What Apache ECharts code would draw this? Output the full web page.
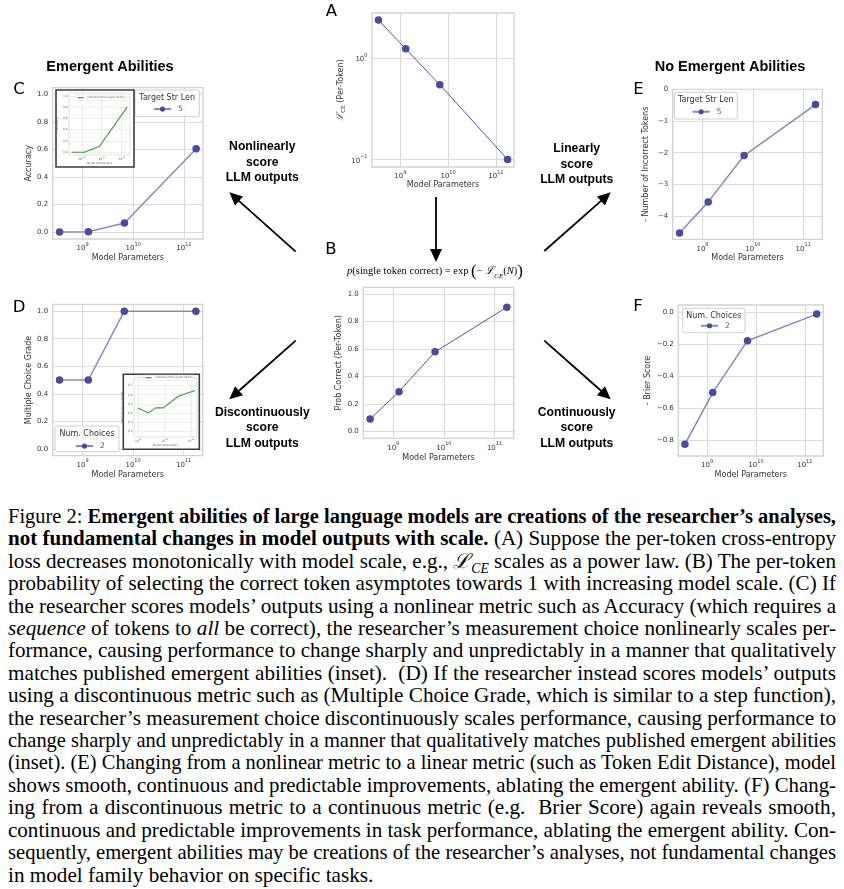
<!DOCTYPE html>
<html><head><meta charset="utf-8">
<script src="https://cdn.jsdelivr.net/npm/echarts@6/dist/echarts.min.js"></script>
<style>
html,body{margin:0;padding:0;background:#fff;}
#chart{position:absolute;left:0;top:0;width:844px;height:500px;}
#cap{position:absolute;left:8px;top:505px;width:828px;font-family:"Liberation Serif","Tinos","Times New Roman","Times","Nimbus Roman","FreeSerif",serif;font-size:21.2px;line-height:22.4px;color:#000;}
#cap .ln{width:828px;white-space:nowrap;}
#cap .ln span.t{white-space:nowrap;display:inline-block;}
#cap sub{font-size:65%;line-height:0;}
</style></head><body>
<div id="chart"></div>
<div id="cap">
<div class="ln"><span class="t">Figure 2: <b>Emergent abilities of large language models are creations of the researcher’s analyses,</b></span></div>
<div class="ln"><span class="t"><b>not fundamental changes in model outputs with scale.</b> (A) Suppose the per-token cross-entropy</span></div>
<div class="ln"><span class="t">loss decreases monotonically with model scale, e.g., <i>ℒ<sub>CE</sub></i> scales as a power law. (B) The per-token</span></div>
<div class="ln"><span class="t">probability of selecting the correct token asymptotes towards 1 with increasing model scale. (C) If</span></div>
<div class="ln"><span class="t">the researcher scores models’ outputs using a nonlinear metric such as Accuracy (which requires a</span></div>
<div class="ln"><span class="t"><i>sequence</i> of tokens to <i>all</i> be correct), the researcher’s measurement choice nonlinearly scales per-</span></div>
<div class="ln"><span class="t">formance, causing performance to change sharply and unpredictably in a manner that qualitatively</span></div>
<div class="ln"><span class="t">matches published emergent abilities (inset).&nbsp; (D) If the researcher instead scores models’ outputs</span></div>
<div class="ln"><span class="t">using a discontinuous metric such as (Multiple Choice Grade, which is similar to a step function),</span></div>
<div class="ln"><span class="t">the researcher’s measurement choice discontinuously scales performance, causing performance to</span></div>
<div class="ln"><span class="t">change sharply and unpredictably in a manner that qualitatively matches published emergent abilities</span></div>
<div class="ln"><span class="t">(inset). (E) Changing from a nonlinear metric to a linear metric (such as Token Edit Distance), model</span></div>
<div class="ln"><span class="t">shows smooth, continuous and predictable improvements, ablating the emergent ability. (F) Chang-</span></div>
<div class="ln"><span class="t">ing from a discontinuous metric to a continuous metric (e.g.&nbsp; Brier Score) again reveals smooth,</span></div>
<div class="ln"><span class="t">continuous and predictable improvements in task performance, ablating the emergent ability. Con-</span></div>
<div class="ln"><span class="t">sequently, emergent abilities may be creations of the researcher’s analyses, not fundamental changes</span></div>
<div class="ln last"><span class="t">in model family behavior on specific tasks.</span></div>
</div>
<script>
// ---------------- data ----------------
const modelParams = [3.5e8, 1.3e9, 6.7e9, 1.75e11];
const lossCE = [2.36, 1.23, 0.545, 0.100];
const probCorrect = [0.09, 0.29, 0.58, 0.905];
const accuracy = [0.000, 0.002, 0.066, 0.606];
const negNumIncorrect = [-4.53, -3.55, -2.09, -0.48];
const mcGrade = [0.5, 0.5, 1.0, 1.0];
const negBrier = [-0.827, -0.502, -0.176, -0.009];

// insets: published emergent abilities (x as exponent of 10)
const insetCExp = [21.5, 22.12, 22.88, 24.28];
const insetCAcc = [0.0, 0.0, 0.1, 0.8];
const insetDExp = [21.98, 22.38, 22.66, 22.95, 23.52, 24.15];
const insetDGrade = [0.455, 0.40, 0.455, 0.455, 0.583, 0.646];

// tick labels
const xTickExp = [9, 10, 11];
const insetXTickExp = [22, 23, 24];
const yTicksA = [-1, 0];
const yTicks01 = [0, 0.2, 0.4, 0.6, 0.8, 1.0];
const yTicksE = [-4, -3, -2, -1, 0];
const yTicksF = [-0.8, -0.6, -0.4, -0.2, 0.0];
const yTicksInsetD = [0.2, 0.3, 0.4, 0.5, 0.6, 0.7];

// ---------------- styles ----------------
const INK = '#353535';
const GRIDC = '#dadada';
const FRAME = '#d2d2d2';
const MARK = '#4a4a9e';
const LINE_DARK = '#5252a8';
const LINE_LIGHT = '#8888c6';
const GREEN = '#2ca02c';
const SANS = '"DejaVu Sans", sans-serif';
const ARIAL = '"Liberation Sans", Arial, sans-serif';
const SERIF = '"Liberation Serif", "Times New Roman", "DejaVu Serif", serif';

const minus = s => String(s).replace('-', '\u2212');
const powFmt = v => '{b|10}{s|' + minus(Math.round(v)) + '}';
const dec1 = v => minus((Math.abs(v) < 1e-9 ? 0 : v).toFixed(1));
const intFmt = v => minus(Math.round(v));
const SUP = { b: { fontSize: 7, fontFamily: SANS, color: INK, verticalAlign: 'bottom', lineHeight: 10 },
              s: { fontSize: 5, fontFamily: SANS, color: INK, verticalAlign: 'top', lineHeight: 10 } };
const SUPi = { b: { fontSize: 3, fontFamily: SANS, color: '#666', verticalAlign: 'bottom', lineHeight: 4.2 },
               s: { fontSize: 2.2, fontFamily: SANS, color: '#666', verticalAlign: 'top', lineHeight: 4.2 } };
const nameStyle = { fontSize: 8, fontFamily: SANS, color: INK };

const XMIN = 8.409, XMAX = 11.378;

const panels = [
  { box: [372, 13, 514, 167], y: [-1.075, 0.443], yt: yTicksA, fmt: powFmt, log: true, vals: lossCE,
    yname: '{l|ℒ}{sub|CE}{t| (Per-Token)}', ygap: 25, xgap: 13.5, lc: LINE_DARK, lw: 1, sname: 'A' },
  { box: [363.3, 287.3, 513.7, 438.3], y: [-0.05, 1.05], yt: yTicks01, fmt: dec1, vals: probCorrect,
    yname: 'Prob Correct (Per-Token)', ygap: 20.5, xgap: 15.5, lc: LINE_DARK, lw: 1, sname: 'B' },
  { box: [52.7, 87.7, 203, 239], y: [-0.05, 1.05], yt: yTicks01, fmt: dec1, vals: accuracy,
    yname: 'Accuracy', ygap: 20, xgap: 14.5, lc: LINE_LIGHT, lw: 1.5, sname: '5' },
  { box: [52.7, 304.3, 202.7, 455.7], y: [-0.05, 1.05], yt: yTicks01, fmt: dec1, vals: mcGrade,
    yname: 'Multiple Choice Grade', ygap: 20, xgap: 15, lc: LINE_LIGHT, lw: 1.5, sname: '2' },
  { box: [672.7, 89.3, 822.3, 239.3], y: [-4.73, 0], yt: yTicksE, fmt: intFmt, vals: negNumIncorrect,
    yname: '- Number of Incorrect Tokens', ygap: 23, xgap: 14.5, lc: LINE_LIGHT, lw: 1.5, sname: '5' },
  { box: [678.3, 305, 823.3, 456], y: [-0.9, 0.048], yt: yTicksF, fmt: dec1, vals: negBrier,
    yname: '- Brier Score', ygap: 26.5, xgap: 14.5, lc: LINE_LIGHT, lw: 1.5, sname: '2' }
];

const grid = [], xAxis = [], yAxis = [], series = [];
panels.forEach((p, i) => {
  const b = p.box;
  grid.push({ left: b[0], top: b[1], width: b[2] - b[0], height: b[3] - b[1], show: true,
    backgroundColor: '#fff', borderColor: FRAME, borderWidth: 1.3, containLabel: false, outerBoundsMode: 'none', z: 0 });
  xAxis.push({ type: 'value', gridIndex: i, min: XMIN, max: XMAX,
    axisLine: { show: false }, axisTick: { show: false, customValues: xTickExp },
    axisLabel: { customValues: xTickExp, formatter: powFmt, margin: 3, rich: SUP, color: INK, fontSize: 7 },
    splitLine: { show: true, lineStyle: { color: GRIDC, width: 1 } },
    name: 'Model Parameters', nameLocation: 'middle', nameGap: p.xgap, nameTextStyle: nameStyle });
  const yname = p.log ? {
      fontSize: 8, fontFamily: SANS, color: INK,
      rich: { l: { fontFamily: '"DejaVu Serif", serif', fontStyle: 'italic', fontSize: 9.5, color: INK, verticalAlign: 'middle', lineHeight: 12 },
              sub: { fontFamily: SANS, fontSize: 5.5, color: INK, verticalAlign: 'bottom', lineHeight: 12 },
              t: { fontFamily: SANS, fontSize: 8, color: INK, verticalAlign: 'middle', lineHeight: 12 } } } : nameStyle;
  yAxis.push({ type: 'value', gridIndex: i, min: p.y[0], max: p.y[1],
    axisLine: { show: false }, axisTick: { show: false, customValues: p.yt },
    axisLabel: { customValues: p.yt, formatter: p.fmt, margin: 4.5, rich: SUP, color: INK, fontSize: 7, fontFamily: SANS },
    splitLine: { show: true, lineStyle: { color: GRIDC, width: 1 } },
    name: p.yname, nameLocation: 'middle', nameGap: p.ygap, nameTextStyle: yname });
  series.push({ type: 'line', name: p.sname, xAxisIndex: i, yAxisIndex: i,
    data: modelParams.map((n, k) => [Math.log10(n), p.log ? Math.log10(p.vals[k]) : p.vals[k]]),
    symbol: 'circle', symbolSize: 7.5, showSymbol: true,
    itemStyle: { color: MARK }, lineStyle: { color: p.lc, width: p.lw }, z: 2, animation: false, silent: true });
});

// insets
const insets = [
  { grid: [69, 93, 61, 62], x: [21.36, 24.42], y: [-0.05, 1.05], yt: yTicks01, xs: insetCExp, ys: insetCAcc,
    yname: 'Accuracy', ygap: 5.5, xgap: 3.3, legend: [75, 95] },
  { grid: [134, 377.5, 63, 59.5], x: [21.837, 24.228], y: [0.134, 0.79], yt: yTicksInsetD, xs: insetDExp, ys: insetDGrade,
    yname: 'Multiple Choice Grade', ygap: 5, xgap: 3.3, legend: [143, 375] }
];
const iStyle = { fontSize: 2.8, fontFamily: SANS, color: '#666' };
insets.forEach((q, j) => {
  const gi = grid.length;
  grid.push({ left: q.grid[0], top: q.grid[1], width: q.grid[2], height: q.grid[3], show: true,
    backgroundColor: '#fff', borderColor: '#cfcfcf', borderWidth: 0.6, containLabel: false, outerBoundsMode: 'none', z: 6 });
  xAxis.push({ type: 'value', gridIndex: gi, min: q.x[0], max: q.x[1], z: 6,
    axisLine: { show: false }, axisTick: { show: false, customValues: insetXTickExp },
    axisLabel: { customValues: insetXTickExp, formatter: powFmt, margin: 1.2, rich: SUPi, color: '#666', fontSize: 3 },
    splitLine: { show: true, lineStyle: { color: '#e2e2e2', width: 0.6 } },
    name: 'Model Parameters', nameLocation: 'middle', nameGap: q.xgap, nameTextStyle: iStyle });
  yAxis.push({ type: 'value', gridIndex: gi, min: q.y[0], max: q.y[1], z: 6,
    axisLine: { show: false }, axisTick: { show: false, customValues: q.yt },
    axisLabel: { customValues: q.yt, formatter: dec1, margin: 1.3, color: '#666', fontSize: 3, fontFamily: SANS },
    splitLine: { show: true, lineStyle: { color: '#e2e2e2', width: 0.6 } },
    name: q.yname, nameLocation: 'middle', nameGap: q.ygap, nameTextStyle: iStyle });
  series.push({ type: 'line', name: 'Published Emergent Ability', xAxisIndex: gi, yAxisIndex: gi,
    data: q.xs.map((x, k) => [x, q.ys[k]]), symbol: 'none', showSymbol: false,
    lineStyle: { color: GREEN, width: 1.1 }, itemStyle: { color: GREEN }, z: 7, animation: false, silent: true });
});

// legends
const legend = [];
function mainLegend(name, left, cy) {
  legend.push({ data: [name], left: left, top: cy - 3.25, orient: 'horizontal', padding: 0, itemGap: 0,
    itemWidth: 17, itemHeight: 6.5, selectedMode: false, z: 6,
    textStyle: { fontSize: 7.5, color: MARK, fontFamily: SANS, padding: [0, 0, 0, 2] } });
}
mainLegend('5', 153, 108.3);
mainLegend('5', 691.7, 111);
mainLegend('2', 75, 445.3);
mainLegend('2', 700, 325);
insets.forEach(q => {
  legend.push({ data: [{ name: 'Published Emergent Ability', icon: 'rect' }], left: q.legend[0], top: q.legend[1],
    padding: [1.1, 1.5, 1.1, 2.5], itemGap: 0, itemWidth: 6.2, itemHeight: 1.2, selectedMode: false, z: 9,
    backgroundColor: '#fff', borderColor: '#d0d0d0', borderWidth: 0.4, borderRadius: 0.5,
    textStyle: { fontSize: 2.8, lineHeight: 3.2, color: '#666', fontFamily: SANS, padding: [0, 0, 0, -1.5] } });
});

// ---------------- annotations ----------------
const graphic = [];
function txt(x, y, s, font, extra) {
  graphic.push(Object.assign({ type: 'text', z: 10, silent: true,
    style: Object.assign({ text: s, x: x, y: y, align: 'center', verticalAlign: 'middle', font: font, fill: '#000' }, extra || {}) }));
}
// panel letters
[['A', 331.5, 11.5], ['B', 331, 250], ['C', 19, 89.5], ['D', 19, 307.5], ['E', 638.5, 89.5], ['F', 638, 306.5]]
  .forEach(a => txt(a[1], a[2], a[0], '16.5px ' + SANS));
// titles
txt(110, 67, 'Emergent Abilities', 'bold 14.5px ' + ARIAL);
txt(730, 67, 'No Emergent Abilities', 'bold 14.5px ' + ARIAL);
// middle labels
[[262.3, 162.2, 'Nonlinearly\nscore\nLLM outputs'], [576.7, 164.3, 'Linearly\nscore\nLLM outputs'],
 [262.3, 427.9, 'Discontinuously\nscore\nLLM outputs'], [576.7, 427.9, 'Continuously\nscore\nLLM outputs']]
  .forEach(a => txt(a[0], a[1], a[2], 'bold 12.2px ' + ARIAL, { lineHeight: 15.5 }));
// formula above B
graphic.push({ type: 'text', z: 10, silent: true, style: {
  x: 435, y: 271.5, align: 'center', verticalAlign: 'middle', fill: '#000',
  text: '{i|p}{r|(single token correct) = exp }{big|(}{r|\u2212 }{L|ℒ}{sub|CE}{r|(}{i|N}{r|)}{big|)}',
  rich: {
    i: { fontFamily: SERIF, fontStyle: 'italic', fontSize: 10.5, verticalAlign: 'middle', lineHeight: 16 },
    r: { fontFamily: SERIF, fontSize: 10.5, verticalAlign: 'middle', lineHeight: 16 },
    big: { fontFamily: SERIF, fontSize: 17, verticalAlign: 'middle', lineHeight: 16 },
    L: { fontFamily: '"DejaVu Serif", serif', fontStyle: 'italic', fontSize: 11, verticalAlign: 'middle', lineHeight: 16 },
    sub: { fontFamily: SERIF, fontStyle: 'italic', fontSize: 7, verticalAlign: 'bottom', lineHeight: 13 }
  } } });
// arrows
function arrow(x1, y1, x2, y2) {
  const dx = x2 - x1, dy = y2 - y1, L = Math.hypot(dx, dy), ux = dx / L, uy = dy / L;
  const hl = 13, hw = 6;
  const bx = x2 - ux * hl, by = y2 - uy * hl;
  graphic.push({ type: 'line', z: 10, silent: true, shape: { x1: x1, y1: y1, x2: bx + ux * 2, y2: by + uy * 2 },
    style: { stroke: '#000', lineWidth: 1.8 } });
  graphic.push({ type: 'polygon', z: 10, silent: true,
    shape: { points: [[x2, y2], [bx - uy * hw, by + ux * hw], [bx + uy * hw, by - ux * hw]] }, style: { fill: '#000' } });
}
arrow(436, 197, 436, 262);
arrow(295.7, 251.7, 229.3, 192.3);
arrow(544.3, 251, 610.7, 192.3);
arrow(295.7, 340.7, 229.3, 399.3);
arrow(544.3, 340.7, 610.7, 399.3);
// legend boxes + titles
function legBox(x, y, w, h, title) {
  graphic.push({ type: 'rect', z: 3, silent: true, shape: { x: x, y: y, width: w, height: h, r: 2 },
    style: { fill: 'rgba(255,255,255,0.9)', stroke: '#d0d0d0', lineWidth: 1 } });
  txt(x + w / 2, y + 7.5, title, '8px ' + SANS, { fill: INK });
}
legBox(135, 90, 64.3, 26.7, 'Target Str Len');
legBox(674.3, 92.3, 63, 26.7, 'Target Str Len');
legBox(55, 426, 64, 25.7, 'Num. Choices');
legBox(682.7, 308.3, 62.3, 24.4, 'Num. Choices');
// inset frames
graphic.push({ type: 'rect', z: 5, silent: true, shape: { x: 56, y: 90, width: 78, height: 77 },
  style: { fill: '#fff', stroke: '#3c3c3c', lineWidth: 1.6 } });
graphic.push({ type: 'rect', z: 5, silent: true, shape: { x: 123.3, y: 374.3, width: 76, height: 75 },
  style: { fill: '#fff', stroke: '#3c3c3c', lineWidth: 1.6 } });

const chart = echarts.init(document.getElementById('chart'), null, { renderer: 'canvas' });
chart.setOption({ animation: false, backgroundColor: '#fff', grid, xAxis, yAxis, series, legend, graphic });

// ---------------- caption line fitting ----------------
document.querySelectorAll('#cap .ln').forEach(d => {
  const s = d.querySelector('span.t');
  const w = s.getBoundingClientRect().width;
  if (d.classList.contains('last')) return;
  if (w > 828) {
    s.style.transformOrigin = '0 0';
    s.style.transform = 'scaleX(' + (828 / w) + ')';
  } else {
    s.style.display = 'inline';
    d.style.whiteSpace = 'normal';
    d.style.textAlign = 'justify';
    d.style.textAlignLast = 'justify';
  }
});
</script>
</body></html>
